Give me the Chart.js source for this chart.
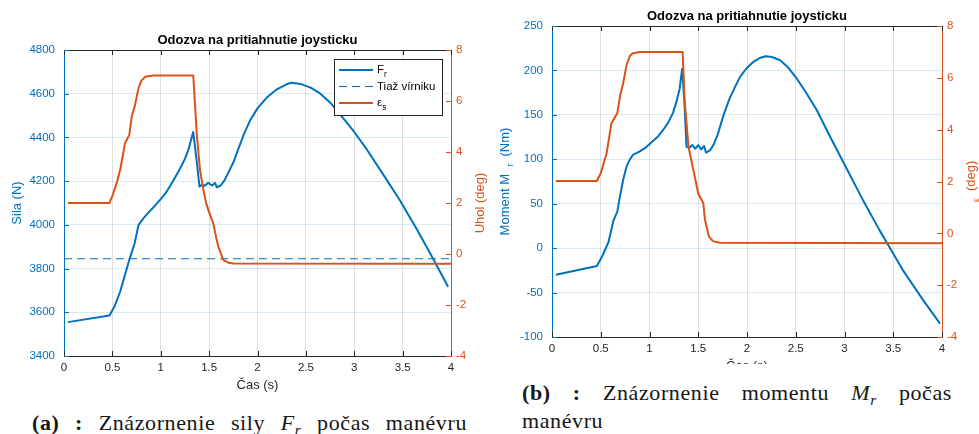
<!DOCTYPE html>
<html>
<head>
<meta charset="utf-8">
<script src="https://cdn.jsdelivr.net/npm/chart.js@4.4.1/dist/chart.umd.min.js"></script>
<style>
    body { margin: 0; background: #fff; width: 979px; height: 434px; overflow: hidden; position: relative; }
    .box { position: absolute; top: 0; height: 400px; }
    #boxA { left: 0; width: 490px; }
    #boxB { left: 490px; width: 489px; }
    #cover { position: absolute; left: 490px; top: 364px; width: 489px; height: 70px; background: #fff; }
    .cap { position: absolute; font-family: 'Liberation Serif', 'DejaVu Serif', serif; font-size: 22px; line-height: 24px; color: #161616; white-space: nowrap; letter-spacing: 0.6px; }
    .cap b { font-weight: bold; }
    .cap sub { font-style: italic; font-size: 0.7em; vertical-align: -0.3em; line-height: 0; }
</style>
</head>
<body>
<div class="box" id="boxA"><canvas id="chartA"></canvas></div>
<div class="box" id="boxB"><canvas id="chartB"></canvas></div>
<div id="cover"></div>
<div class="cap" data-w="435" style="left:32px; top:411px;"><b>(a) :</b> Znázornenie sily <i>F</i><sub>r</sub> počas manévru</div>
<div class="cap" data-w="430" style="left:522px; top:381px;"><b>(b) :</b> Znázornenie momentu <i>M</i><sub>r</sub> počas</div>
<div class="cap" style="left:522px; top:409px;">manévru</div>
<script>
// time axis and tick values
const xTicks = [0, 0.5, 1, 1.5, 2, 2.5, 3, 3.5, 4];
const silaTicks = [3400, 3600, 3800, 4000, 4200, 4400, 4600, 4800];
const momentTicks = [-100, -50, 0, 50, 100, 150, 200, 250];
const uholTicks = [-4, -2, 0, 2, 4, 6, 8];

// (a) sila F_r
const casF = [0.04, 0.47, 0.52, 0.58, 0.63, 0.675, 0.73, 0.77, 0.82, 0.87, 0.92, 0.96, 1.0, 1.05,
    1.1, 1.15, 1.2, 1.25, 1.29, 1.335,
    1.37, 1.40, 1.43, 1.45, 1.49, 1.53, 1.56, 1.58, 1.62, 1.66, 1.70, 1.75, 1.80, 1.86, 1.92, 2.0,
    2.1, 2.2, 2.3, 2.35, 2.45, 2.55, 2.65, 2.75, 2.85, 3.0, 3.13, 3.3, 3.47, 3.65, 3.815, 3.97];
const silaF = [3555, 3585, 3625, 3694, 3771, 3840, 3916, 3999, 4030, 4055, 4078, 4098, 4118, 4145,
    4180, 4218, 4258, 4302, 4350, 4425,
    4300, 4175, 4185, 4178, 4192, 4180, 4192, 4172, 4180, 4205, 4240, 4285, 4345, 4415, 4475, 4533,
    4584, 4620, 4643, 4650, 4644, 4628, 4600, 4560, 4508, 4425, 4345, 4230, 4114, 3978, 3845, 3717];
const casTiaz = [0, 4];
const tiazVirniku = [3845, 3845];
const casEpsA = [0.04, 0.47, 0.51, 0.55, 0.58, 0.61, 0.63, 0.675, 0.70, 0.73, 0.77, 0.80, 0.84, 0.92,
    1.336, 1.372, 1.406, 1.447, 1.47, 1.491, 1.543, 1.57, 1.595, 1.647, 1.70, 1.75, 4.0];
const epsA = [2.0, 2.0, 2.38, 2.85, 3.29, 3.9, 4.34, 4.67, 5.39, 5.78, 6.5, 6.8, 6.95, 7.0,
    7.0, 4.73, 3.29, 2.38, 2.0, 1.73, 1.2, 0.7, 0.29, -0.24, -0.34, -0.37, -0.38];

// (b) moment M_r
const casM = [0.04, 0.46, 0.52, 0.58, 0.63, 0.67, 0.69, 0.73, 0.765, 0.79, 0.83, 0.9, 0.97, 1.03,
    1.09, 1.14, 1.19, 1.24, 1.28, 1.31, 1.335,
    1.36, 1.38, 1.41, 1.44, 1.47, 1.50, 1.53, 1.56, 1.58, 1.62, 1.66, 1.70, 1.76, 1.82, 1.88, 1.93,
    2.0, 2.07, 2.13, 2.19, 2.26, 2.34, 2.42, 2.51, 2.6, 2.715, 2.85, 3.02, 3.19, 3.36, 3.43, 3.60,
    3.81, 3.98];
const momentM = [-30, -20, -8, 7, 31, 41, 54, 77, 92, 98, 105, 109, 114, 120,
    126, 133, 141, 152, 166, 180, 202,
    160, 114, 113, 116, 112, 116, 111, 115, 107.5, 110, 117, 128, 150, 168, 182, 193,
    203, 210, 214, 216, 215, 211.5, 203.5, 191, 176, 155.5, 126, 90, 54, 20, 7, -25,
    -59, -85];
const casEpsB = [0.04, 0.46, 0.50, 0.56, 0.61, 0.67, 0.70, 0.73, 0.765, 0.80, 0.83, 0.90,
    1.34, 1.36, 1.40, 1.45, 1.50, 1.552, 1.569, 1.61, 1.65, 1.72, 4.0];
const epsB = [2.02, 2.02, 2.32, 3.09, 4.25, 4.64, 5.34, 5.79, 6.5, 6.85, 6.95, 7.0,
    7.0, 5.15, 3.34, 2.44, 1.54, 1.16, 0.52, -0.13, -0.3, -0.36, -0.38];

const BLUE = '#0072BD';
const ORANGE = '#D95319';
const DARK = '#262626';
const FONT = "'Liberation Sans', Arial, sans-serif";

function pts(xs, ys) {
    return xs.map((x, i) => ({ x: x, y: ys[i] }));
}

function drawRich(ctx, segs, x, y, rot, size, color, bold, center) {
    const fontFor = s => (bold ? 'bold ' : '') + (s.sub ? size * 0.72 : size) + 'px ' + FONT;
    let w = 0;
    segs.forEach(s => { ctx.font = fontFor(s); w += ctx.measureText(s.t).width; });
    ctx.save();
    ctx.translate(x, y);
    ctx.rotate(rot);
    ctx.fillStyle = color;
    ctx.textBaseline = 'middle';
    ctx.textAlign = 'left';
    let cx = center ? -w / 2 : 0;
    segs.forEach(s => {
        ctx.font = fontFor(s);
        ctx.fillText(s.t, cx, s.sub ? size * 0.38 : 0);
        cx += ctx.measureText(s.t).width;
    });
    ctx.restore();
}

// matlab-like box, inward ticks, titles and legend
const decoPlugin = {
    id: 'deco',
    afterDraw(chart, args, o) {
        const ctx = chart.ctx;
        const a = chart.chartArea;
        const sx = chart.scales.x, sl = chart.scales.y, sr = chart.scales.y1;
        function seg(x1, y1, x2, y2, c) {
            ctx.strokeStyle = c;
            ctx.beginPath(); ctx.moveTo(x1, y1); ctx.lineTo(x2, y2); ctx.stroke();
        }
        ctx.save();
        ctx.lineWidth = 1;
        seg(a.left, a.top + 0.5, a.right, a.top + 0.5, DARK);
        xTicks.forEach(v => {
            const px = Math.round(sx.getPixelForValue(v)) + 0.5;
            seg(px, a.bottom, px, a.bottom - 5, DARK);
            seg(px, a.top, px, a.top + 5, DARK);
        });
        o.leftTicks.forEach(v => {
            const py = Math.round(sl.getPixelForValue(v)) + 0.5;
            seg(a.left, py, a.left + 5, py, BLUE);
        });
        uholTicks.forEach(v => {
            const py = Math.round(sr.getPixelForValue(v)) + 0.5;
            seg(a.right, py, a.right - 5, py, ORANGE);
        });
        ctx.restore();

        const midX = (a.left + a.right) / 2, midY = (a.top + a.bottom) / 2;
        drawRich(ctx, [{ t: 'Odozva na pritiahnutie joysticku' }], midX, a.top - 10, 0, 13, '#000', true, true);
        drawRich(ctx, [{ t: 'Čas (s)' }], midX, a.bottom + 29, 0, 13, DARK, false, true);
        drawRich(ctx, o.leftTitle, a.left - 47, midY, -Math.PI / 2, 13, BLUE, false, true);
        drawRich(ctx, o.rightTitle, a.right + 29, midY, -Math.PI / 2, 13, ORANGE, false, true);

        if (o.legend) {
            const lx = a.right - 117, ly = a.top + 9, lw = 108, lh = 56;
            ctx.save();
            ctx.fillStyle = '#fff';
            ctx.fillRect(lx, ly, lw, lh);
            ctx.strokeStyle = DARK;
            ctx.lineWidth = 1;
            ctx.strokeRect(lx + 0.5, ly + 0.5, lw, lh);
            chart.data.datasets.forEach((ds, i) => {
                const yy = ly + 11 + i * 16.5;
                ctx.strokeStyle = ds.borderColor;
                ctx.lineWidth = ds.borderWidth;
                ctx.setLineDash(ds.borderDash || []);
                ctx.beginPath(); ctx.moveTo(lx + 5, yy); ctx.lineTo(lx + 39, yy); ctx.stroke();
                ctx.setLineDash([]);
                drawRich(ctx, o.legendTexts[i], lx + 43, yy, 0, 11.5, '#000', false, false);
            });
            ctx.restore();
        }
    }
};

function lineSet(label, data, axis, color, width, order, dash) {
    return {
        label: label, data: data, yAxisID: axis, borderColor: color, borderWidth: width,
        borderDash: dash, order: order, pointRadius: 0, fill: false, tension: 0,
        borderJoinStyle: 'round'
    };
}

function makeChart(id, datasets, cfg) {
    const ctx = document.getElementById(id).getContext('2d');
    const setTicks = list => (s => { s.ticks = list.map(v => ({ value: v })); });
    return new Chart(ctx, {
        type: 'line',
        data: { datasets: datasets },
        options: {
            responsive: true,
            maintainAspectRatio: false,
            animation: false,
            layout: { padding: { top: cfg.top, left: 0, right: 0, bottom: 0 } },
            plugins: {
                legend: { display: false },
                tooltip: { enabled: false },
                deco: cfg.deco
            },
            scales: {
                x: {
                    type: 'linear', min: 0, max: 4,
                    afterBuildTicks: setTicks(xTicks),
                    afterFit: s => { s.height = cfg.xHeight; },
                    grid: { color: 'rgba(38,38,38,0.15)', drawTicks: false },
                    border: { color: DARK, width: 1 },
                    ticks: { color: DARK, padding: 5, maxRotation: 0, font: { family: FONT, size: 11.5 }, callback: v => String(v) }
                },
                y: {
                    position: 'left', min: cfg.yMin, max: cfg.yMax,
                    afterBuildTicks: setTicks(cfg.deco.leftTicks),
                    afterFit: s => { s.width = cfg.leftW; },
                    grid: { color: 'rgba(0,114,189,0.15)', drawTicks: false },
                    border: { color: BLUE, width: 1 },
                    ticks: { color: BLUE, padding: 9, font: { family: FONT, size: 11.5 }, callback: v => String(v) }
                },
                y1: {
                    position: 'right', min: -4, max: 8,
                    afterBuildTicks: setTicks(uholTicks),
                    afterFit: s => { s.width = cfg.rightW; },
                    grid: { display: false, drawTicks: false },
                    border: { color: ORANGE, width: 1 },
                    ticks: { color: ORANGE, padding: 5, font: { family: FONT, size: 11.5 }, callback: v => String(v) }
                }
            }
        },
        plugins: [decoPlugin]
    });
}

makeChart('chartA', [
    lineSet('F_r', pts(casF, silaF), 'y', BLUE, 2, 2),
    lineSet('Tiaž vírniku', pts(casTiaz, tiazVirniku), 'y', BLUE, 1.2, 3, [8, 5]),
    lineSet('eps_s', pts(casEpsA, epsA), 'y1', ORANGE, 2, 1)
], {
    top: 50, xHeight: 44, leftW: 64, rightW: 39, yMin: 3400, yMax: 4800,
    deco: {
        leftTicks: silaTicks,
        leftTitle: [{ t: 'Sila (N)' }],
        rightTitle: [{ t: 'Uhol (deg)' }],
        legend: true,
        legendTexts: [[{ t: 'F' }, { t: 'r', sub: true }], [{ t: 'Tiaž vírniku' }], [{ t: 'ε', sub: false }, { t: 's', sub: true }]]
    }
});

makeChart('chartB', [
    lineSet('M_r', pts(casM, momentM), 'y', BLUE, 2, 2),
    lineSet('eps_s', pts(casEpsB, epsB), 'y1', ORANGE, 2, 1)
], {
    top: 26, xHeight: 63, leftW: 62, rightW: 37, yMin: -100, yMax: 250,
    deco: {
        leftTicks: momentTicks,
        leftTitle: [{ t: 'Moment M  ' }, { t: 'r', sub: true }, { t: '  (Nm)' }],
        rightTitle: [{ t: 'ε', sub: true }, { t: '  (deg)' }],
        legend: false
    }
});

// stretch captions to the measured width by widening the spaces
document.querySelectorAll('.cap[data-w]').forEach(el => {
    const target = +el.dataset.w;
    const spaces = el.textContent.trim().split(/\s+/).length - 1;
    const w = el.getBoundingClientRect().width;
    el.style.wordSpacing = ((target - w) / spaces) + 'px';
});
</script>
</body>
</html>
